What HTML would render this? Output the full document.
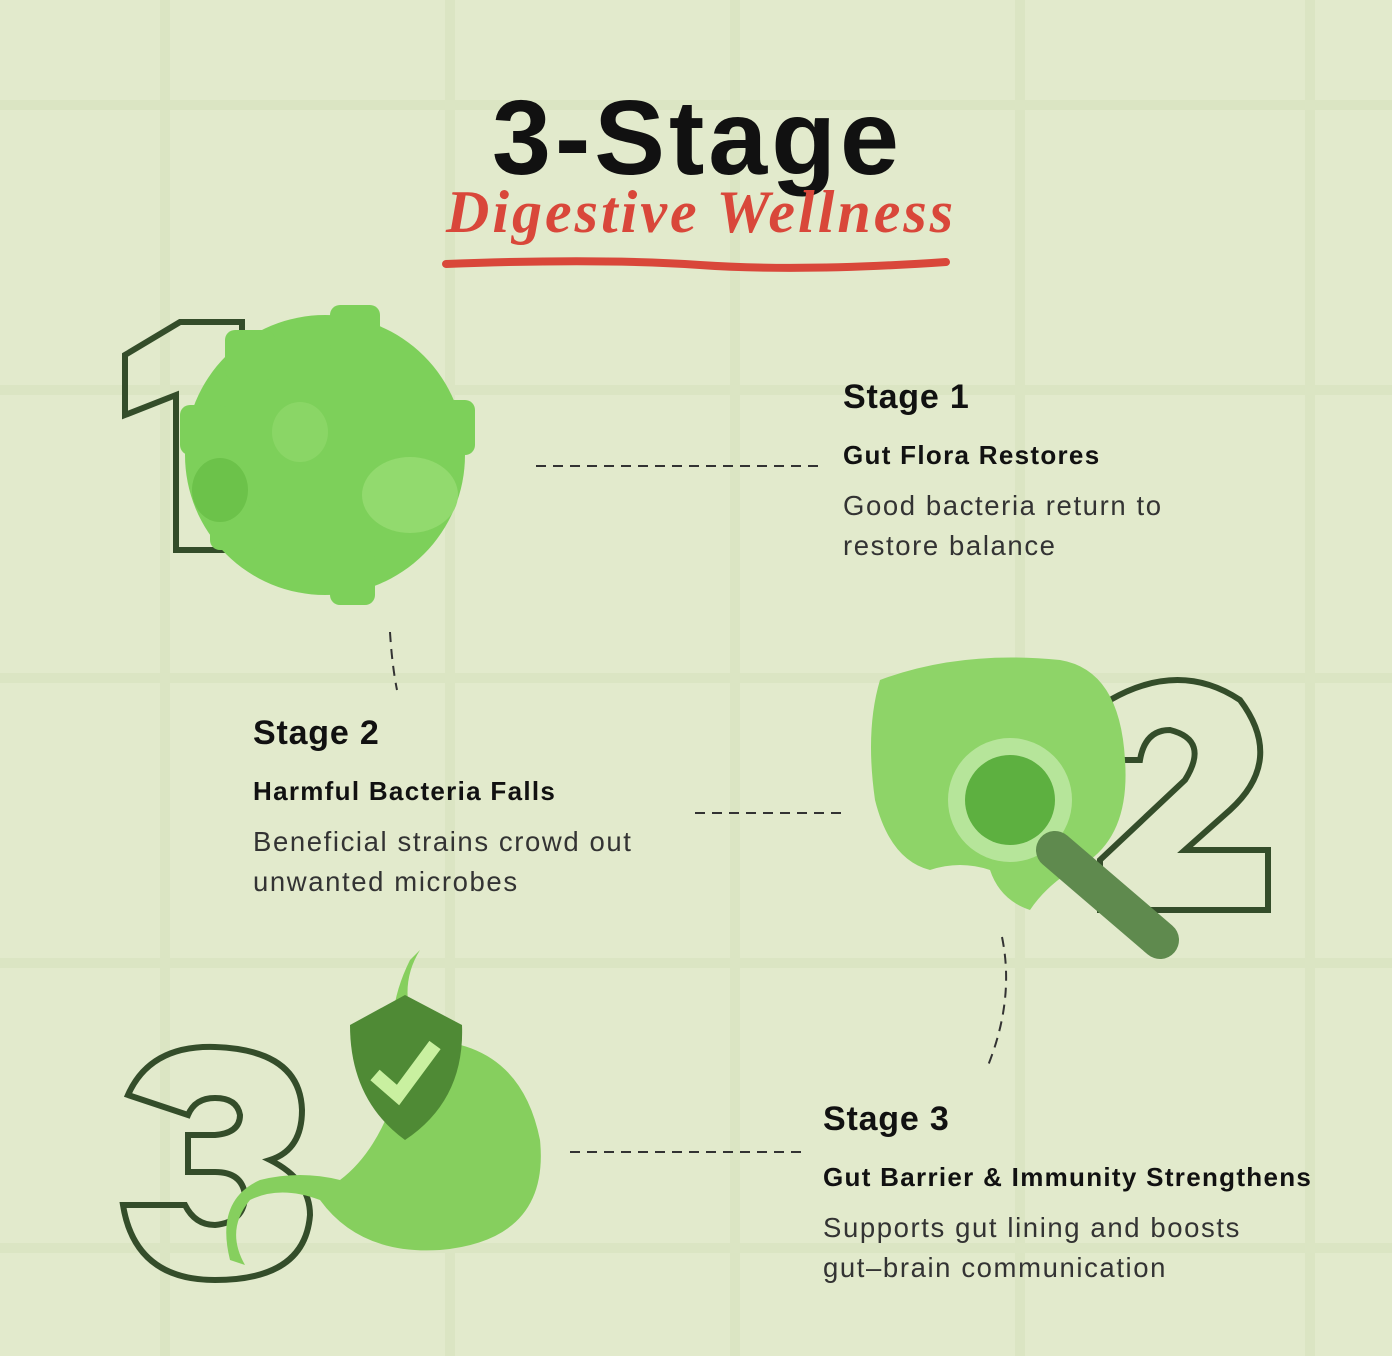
<!DOCTYPE html>
<html><head><meta charset="utf-8"><style>
html,body{margin:0;padding:0}
body{width:1392px;height:1356px;background:#dbe5c3;position:relative;overflow:hidden;font-family:"Liberation Sans",sans-serif}
.t{position:absolute;color:#111;white-space:nowrap}
.h{font-weight:bold;font-size:34px;letter-spacing:0.8px}
.s{font-weight:bold;font-size:26px;letter-spacing:1.3px}
.d{font-size:27.5px;color:#333;line-height:40px;letter-spacing:1.6px}
</style></head><body>
<svg width="1392" height="1356" style="position:absolute;left:0;top:0">
<g fill="#e2eacc">
<g id="row">
<rect x="0" y="0" width="160" height="100"/><rect x="170" y="0" width="275" height="100"/><rect x="455" y="0" width="275" height="100"/><rect x="740" y="0" width="275" height="100"/><rect x="1025" y="0" width="280" height="100"/><rect x="1315" y="0" width="77" height="100"/>
</g>
<use href="#row" transform="translate(0,110) scale(1,2.75)"/>
<use href="#row" transform="translate(0,395) scale(1,2.78)"/>
<use href="#row" transform="translate(0,683) scale(1,2.75)"/>
<use href="#row" transform="translate(0,968) scale(1,2.75)"/>
<use href="#row" transform="translate(0,1253) scale(1,1.1)"/>
</g>
<path d="M446 264 Q600 258 700 265 T946 262" stroke="#d9473a" stroke-width="8" fill="none" stroke-linecap="round"/>
<path d="M125 355 L180 322 L242 322 L242 550 L176 550 L176 395 L125 415 Z" fill="none" stroke="#344d2a" stroke-width="6"/>
<g fill="#7dd05a">
<circle cx="325" cy="455" r="140"/>
<rect x="330" y="305" width="50" height="50" rx="10"/><rect x="225" y="330" width="50" height="50" rx="10"/>
<rect x="420" y="400" width="55" height="55" rx="10"/><rect x="180" y="405" width="50" height="50" rx="10"/>
<rect x="330" y="550" width="45" height="55" rx="10"/><rect x="210" y="500" width="50" height="50" rx="10"/>
</g>
<ellipse cx="410" cy="495" rx="48" ry="38" fill="#92da6e"/>
<ellipse cx="300" cy="432" rx="28" ry="30" fill="#8ad666"/>
<ellipse cx="220" cy="490" rx="28" ry="32" fill="#6cc24a"/>
<path d="M1110 700 Q1180 660 1240 700 Q1285 760 1230 810 L1185 850 L1268 850 L1268 910 L1100 910 L1100 860 L1185 780 Q1210 740 1170 730 Q1145 730 1140 760 L1105 760 Z" fill="none" stroke="#344d2a" stroke-width="6"/>
<path d="M880 680 Q960 650 1060 660 Q1120 670 1125 760 Q1130 830 1090 860 Q1050 880 1030 910 Q1000 900 990 870 Q960 860 930 870 Q890 860 875 800 Q865 730 880 680 Z" fill="#8ed468"/>
<circle cx="1010" cy="800" r="62" fill="#b6e59a"/><circle cx="1010" cy="800" r="45" fill="#5db040"/>
<path d="M1055 850 L1160 940" stroke="#5f8a4e" stroke-width="38" stroke-linecap="round"/>
<path d="M128 1095 Q150 1045 215 1047 Q300 1050 302 1110 Q302 1150 270 1160 Q310 1180 310 1215 Q305 1280 215 1280 Q135 1280 123 1205 L185 1205 Q195 1225 215 1225 Q245 1222 245 1195 Q242 1172 215 1172 L188 1172 L188 1135 L215 1135 Q240 1133 240 1115 Q237 1098 215 1098 Q195 1098 188 1115 Z" fill="none" stroke="#344d2a" stroke-width="6"/>
<path d="M420 950 Q395 990 420 1040 Q520 1040 540 1140 Q550 1240 440 1250 Q360 1255 320 1200 Q280 1185 250 1200 Q225 1230 245 1265 L230 1260 Q215 1200 260 1180 Q300 1170 340 1180 Q380 1150 400 1080 Q380 1020 410 960 Z" fill="#86cf5e"/>
<path d="M350 1025 L405 995 L462 1025 Q465 1100 405 1140 Q350 1100 350 1025 Z" fill="#4f8a35"/>
<path d="M375 1075 L398 1095 L435 1045" stroke="#c9f0a0" stroke-width="14" fill="none"/>
<g stroke="#333" stroke-width="2" stroke-dasharray="10 7" fill="none">
<line x1="536" y1="466" x2="820" y2="466"/>
<path d="M390 632 Q392 665 397 690"/>
<line x1="695" y1="813" x2="845" y2="813"/>
<path d="M1002 937 Q1015 1000 987 1068"/>
<line x1="570" y1="1152" x2="805" y2="1152"/>
</g>
</svg>
<div class="t" style="left:492px;top:78px;font-size:106px;font-weight:bold;letter-spacing:4px">3-Stage</div>
<div class="t" style="left:446px;top:178px;font-size:60px;font-weight:bold;font-style:italic;font-family:'Liberation Serif',serif;color:#d9473a;letter-spacing:3px">Digestive Wellness</div>
<div class="t h" style="left:843px;top:378px">Stage 1</div>
<div class="t s" style="left:843px;top:440px">Gut Flora Restores</div>
<div class="t d" style="left:843px;top:486px">Good bacteria return to<br>restore balance</div>
<div class="t h" style="left:253px;top:714px">Stage 2</div>
<div class="t s" style="left:253px;top:776px">Harmful Bacteria Falls</div>
<div class="t d" style="left:253px;top:822px">Beneficial strains crowd out<br>unwanted microbes</div>
<div class="t h" style="left:823px;top:1100px">Stage 3</div>
<div class="t s" style="left:823px;top:1162px">Gut Barrier &amp; Immunity Strengthens</div>
<div class="t d" style="left:823px;top:1208px">Supports gut lining and boosts<br>gut–brain communication</div>
</body></html>
